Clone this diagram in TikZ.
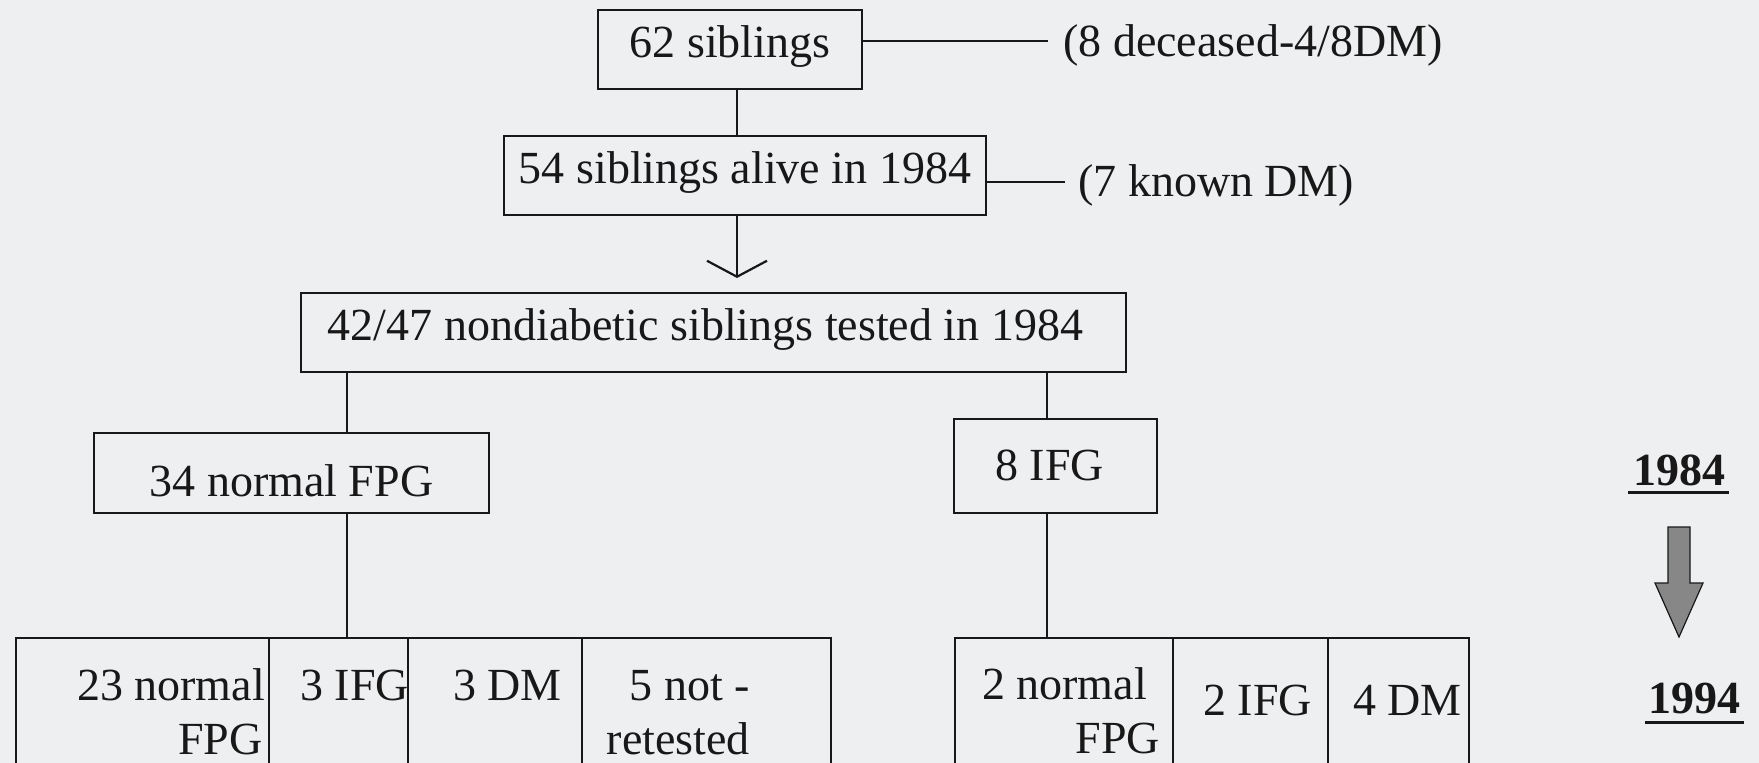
\documentclass[tikz,border=0pt]{standalone}
\usepackage{fontspec}
\setmainfont{Liberation Serif}
\usetikzlibrary{arrows.meta,calc}
\definecolor{bg}{RGB}{238,239,241}
\definecolor{ink}{RGB}{24,24,24}
\definecolor{arrowgray}{RGB}{135,135,135}
\begin{document}
\begin{tikzpicture}[x=1pt,y=-1pt,
  every node/.style={font=\fontsize{46}{55}\selectfont, text=ink, inner sep=0pt},
  box/.style={draw=ink, line width=2.4pt, rectangle},
  cell/.style={draw=ink, line width=2.4pt, rectangle, anchor=north west, minimum height=200pt},
  conn/.style={draw=ink, line width=2.2pt},
  lbl/.style={anchor=base west},
  lblr/.style={anchor=base east},
  yearlbl/.style={anchor=base west, font=\fontsize{46}{55}\selectfont\bfseries}]

\fill[bg] (0,0) rectangle (1759,763);
\useasboundingbox (0,0) rectangle (1759,763);
\clip (0,0) rectangle (1759,763);

% top chain
\node[box, minimum width=264pt, minimum height=79pt, text height=37.5pt, text depth=22.5pt] (b62) at (730,49.5) {62 siblings};
\node[lbl] (t8) at (1063,56) {(8 deceased-4/8DM)};
\coordinate (j1) at (1048,41);
\draw[conn] (b62.east |- j1) -- (j1);

\node[box, minimum width=482pt, minimum height=79pt, text height=37.5pt, text depth=22.5pt] (b54) at (745,175.5) {54 siblings alive in 1984};
\node[lbl] (t7) at (1078,196) {(7 known DM)};
\coordinate (j2) at (1065,182);
\draw[conn] (b54.east |- j2) -- (j2);

\coordinate (xa) at (737,0);
\draw[conn] (b62.south -| xa) -- (b54.north -| xa);
\coordinate (tip) at (737,278);
\draw[conn, -{Straight Barb[length=16pt,width=60pt]}] (b54.south -| xa) -- (tip);

\node[box, minimum width=825pt, minimum height=79pt, text height=37.5pt, text depth=22.5pt] (b42) at (713.5,332.5) {42/47 nondiabetic siblings tested in 1984\hspace*{16pt}};

\node[box, minimum width=395pt, minimum height=80pt, text height=53pt, text depth=7pt] (b34) at (291.5,473) {34 normal FPG};
\node[box, minimum width=203pt, minimum height=94pt, text height=44pt, text depth=16pt] (b8) at (1055.5,466) {8 IFG\hspace*{12pt}};

\coordinate (xl) at (347,0);
\coordinate (xr) at (1047,0);
\draw[conn] (b42.south -| xl) -- (b34.north -| xl);
\draw[conn] (b42.south -| xr) -- (b8.north -| xr);

% bottom cells
\node[cell, minimum width=253pt] (c1) at (15,637) {};
\node[cell, minimum width=139pt] (c2) at (268,637) {};
\node[cell, minimum width=174pt] (c3) at (407,637) {};
\node[cell, minimum width=249pt] (c4) at (581,637) {};
\node[cell, minimum width=218pt] (d1) at (954,637) {};
\node[cell, minimum width=155pt] (d2) at (1172,637) {};
\node[cell, minimum width=141pt] (d3) at (1327,637) {};

\draw[conn] (b34.south -| xl) -- (c1.north -| xl);
\draw[conn] (b8.south -| xr) -- (d1.north -| xr);

\node[lblr] (c1a) at (265,700) {23 normal};
\node[lblr] (c1b) at (263,754) {FPG};
\node[lbl] (c2a) at (300,700) {3 IFG};
\node[lbl] (c3a) at (453,700) {3 DM};
\node[lblr] (c4a) at (750,700) {5 not -};
\node[lblr] (c4b) at (750,754) {retested};
\node[lblr] (d1a) at (1147,699) {2 normal};
\node[lblr] (d1b) at (1160,753) {FPG};
\node[lbl] (d2a) at (1203,715) {2 IFG};
\node[lbl] (d3a) at (1353,715) {4 DM};

% years
\node[yearlbl] (y84) at (1633,485) {1984};
\draw[ink, line width=3pt] ($(y84.base west)+(-5,7)$) -- ($(y84.base east)+(4,7)$);
\node[yearlbl] (y94) at (1648,713) {1994};
\draw[ink, line width=3pt] ($(y94.base west)+(-3,9)$) -- ($(y94.base east)+(4,9)$);

\filldraw[fill=arrowgray, draw=ink, line width=1.2pt]
  (1668,527) -- (1690,527) -- (1690,583) -- (1703,583) -- (1679,637) -- (1655,583) -- (1668,583) -- cycle;
\end{tikzpicture}
\end{document}
